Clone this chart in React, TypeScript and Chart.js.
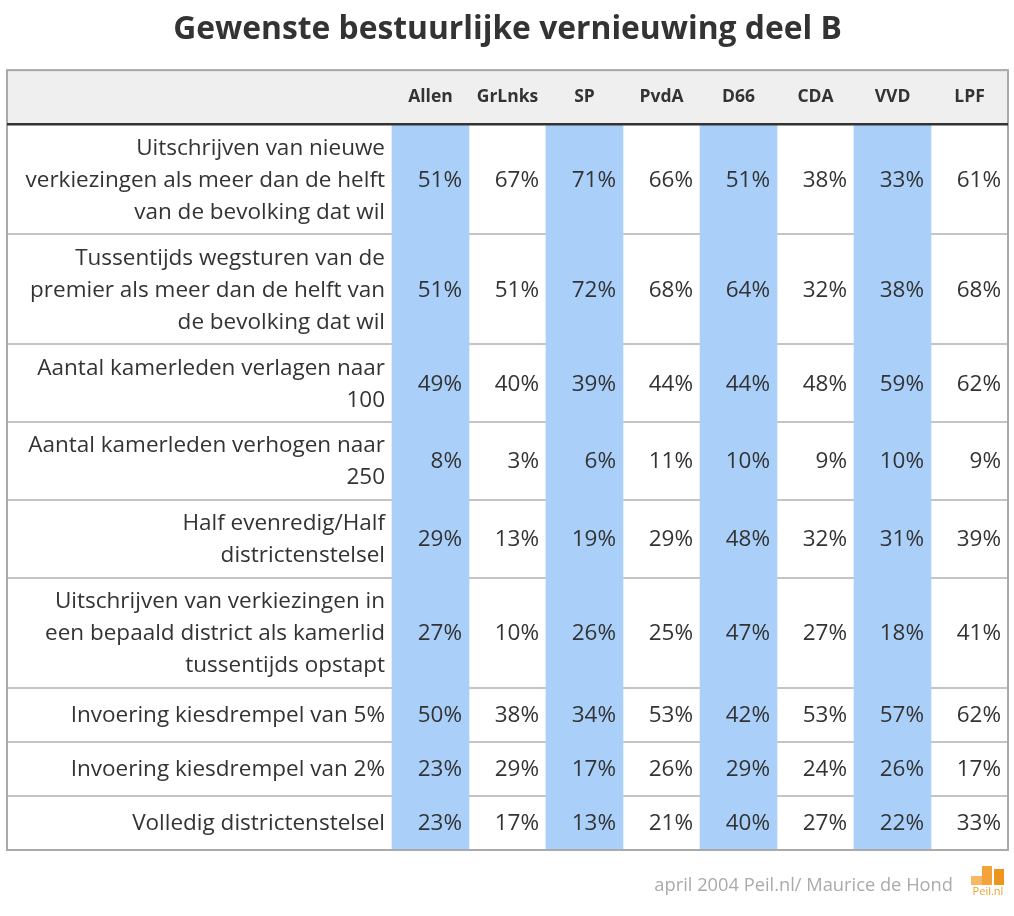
import React, { useEffect, useRef } from "react";
import { Chart, registerables } from "chart.js";

Chart.register(...registerables);

const title = "Gewenste bestuurlijke vernieuwing deel B";
const footer = "april 2004 Peil.nl/ Maurice de Hond";

const parties = ["Allen", "GrLnks", "SP", "PvdA", "D66", "CDA", "VVD", "LPF"];
const highlighted = ["Allen", "SP", "D66", "VVD"];

const rowLabels: string[][] = [
  ["Uitschrijven van nieuwe", "verkiezingen als meer dan de helft", "van de bevolking dat wil"],
  ["Tussentijds wegsturen van de", "premier als meer dan de helft van", "de bevolking dat wil"],
  ["Aantal kamerleden verlagen naar", "100"],
  ["Aantal kamerleden verhogen naar", "250"],
  ["Half evenredig/Half", "districtenstelsel"],
  ["Uitschrijven van verkiezingen in", "een bepaald district als kamerlid", "tussentijds opstapt"],
  ["Invoering kiesdrempel van 5%"],
  ["Invoering kiesdrempel van 2%"],
  ["Volledig districtenstelsel"],
];

const allen = [51, 51, 49, 8, 29, 27, 50, 23, 23];
const grlnks = [67, 51, 40, 3, 13, 10, 38, 29, 17];
const sp = [71, 72, 39, 6, 19, 26, 34, 17, 13];
const pvda = [66, 68, 44, 11, 29, 25, 53, 26, 21];
const d66 = [51, 64, 44, 10, 48, 47, 42, 29, 40];
const cda = [38, 32, 48, 9, 32, 27, 53, 24, 27];
const vvd = [33, 38, 59, 10, 31, 18, 57, 26, 22];
const lpf = [61, 68, 62, 9, 39, 41, 62, 17, 33];

const seriesByParty = [allen, grlnks, sp, pvda, d66, cda, vvd, lpf];

const FONT = "'Open Sans'";
const LABEL_SLOTS = 5;
const HEADER_H = 54;
const LINE_H = 32;

export default function App() {
  const ref = useRef<HTMLCanvasElement>(null);

  useEffect(() => {
    const canvas = ref.current;
    if (!canvas) return;

    const rowHeights = rowLabels.map((l) => Math.max(54, l.length * LINE_H + 14));
    const bounds: number[] = [0, HEADER_H];
    rowHeights.forEach((h) => bounds.push(bounds[bounds.length - 1] + h));
    const total = bounds[bounds.length - 1];

    const labels = [...Array(LABEL_SLOTS).fill(""), ...parties];
    const blueData = labels.map((l, i) =>
      i >= LABEL_SLOTS && highlighted.includes(l) ? [HEADER_H, total] : null
    );
    const headerData = labels.map(() => [0, HEADER_H]);

    const tablePlugin = {
      id: "tableText",
      afterDraw(chart: any) {
        const { ctx, chartArea } = chart;
        const x = chart.scales.x;
        const y = chart.scales.y;
        const slotW = (chartArea.right - chartArea.left) / labels.length;
        ctx.save();
        // outer border
        ctx.strokeStyle = "#aaaaaa";
        ctx.lineWidth = 2;
        ctx.strokeRect(chartArea.left, chartArea.top, chartArea.right - chartArea.left, chartArea.bottom - chartArea.top);
        // header line
        ctx.strokeStyle = "#333333";
        ctx.lineWidth = 2.5;
        const hy = y.getPixelForValue(HEADER_H);
        ctx.beginPath();
        ctx.moveTo(chartArea.left, hy);
        ctx.lineTo(chartArea.right, hy);
        ctx.stroke();

        ctx.fillStyle = "#333333";
        ctx.textBaseline = "middle";
        // headers
        ctx.font = `bold 17.5px ${FONT}`;
        ctx.textAlign = "center";
        parties.forEach((p, j) => {
          ctx.fillText(p, x.getPixelForValue(LABEL_SLOTS + j), y.getPixelForValue(HEADER_H / 2));
        });
        // rows
        ctx.font = `22.5px ${FONT}`;
        const labelRight = x.getPixelForValue(LABEL_SLOTS - 1) + slotW / 2 - 7;
        rowLabels.forEach((lines, r) => {
          const cy = y.getPixelForValue((bounds[r + 1] + bounds[r + 2]) / 2) + 1;
          ctx.textAlign = "right";
          lines.forEach((line, k) => {
            ctx.fillText(line, labelRight, cy + (k - (lines.length - 1) / 2) * LINE_H);
          });
          seriesByParty.forEach((vals, j) => {
            const right = x.getPixelForValue(LABEL_SLOTS + j) + slotW / 2 - 7;
            ctx.fillText(`${vals[r]}%`, right, cy);
          });
        });

        // footer
        ctx.font = `18.3px ${FONT}`;
        ctx.fillStyle = "#aaaaaa";
        ctx.textAlign = "right";
        ctx.fillText(footer, 953, 886);

        // logo
        ctx.fillStyle = "#f5b866";
        ctx.fillRect(971, 876, 11, 9);
        ctx.fillStyle = "#f2a43a";
        ctx.fillRect(982, 866, 10, 19);
        ctx.fillStyle = "#ee951f";
        ctx.fillRect(994, 869, 10, 16);
        ctx.font = `11px ${FONT}`;
        ctx.fillStyle = "#f0a030";
        ctx.textAlign = "center";
        ctx.fillText("Peil.nl", 988, 892);
        ctx.restore();
      },
    };

    const chart = new Chart(canvas, {
      type: "bar",
      data: {
        labels,
        datasets: [
          {
            label: "header",
            data: headerData as any,
            backgroundColor: "#efefef",
            borderWidth: 0,
            barPercentage: 1,
            categoryPercentage: 1,
            grouped: false,
          } as any,
          {
            label: "highlight",
            data: blueData as any,
            backgroundColor: "#aad0fa",
            borderWidth: 0,
            barPercentage: 1,
            categoryPercentage: 1,
            grouped: false,
          } as any,
        ],
      },
      options: {
        responsive: false,
        animation: false,
        devicePixelRatio: 1,
        layout: { padding: { left: 7, right: 6, top: 0, bottom: 66 } },
        plugins: {
          legend: { display: false },
          tooltip: { enabled: false },
          title: {
            display: true,
            text: title,
            color: "#333333",
            font: { family: FONT, size: 31.8, weight: "bold" },
            padding: { top: 11, bottom: 21 },
          },
        },
        scales: {
          x: { type: "category", display: false },
          y: {
            type: "linear",
            reverse: true,
            min: 0,
            max: total,
            display: true,
            z: 1,
            afterBuildTicks: (axis: any) => {
              axis.ticks = bounds.map((v) => ({ value: v }));
            },
            afterFit: (axis: any) => {
              axis.width = 0;
            },
            ticks: { display: false },
            border: { display: false },
            grid: {
              drawTicks: false,
              color: "#c4c4c4",
              lineWidth: 2,
            },
          },
        },
      } as any,
      plugins: [tablePlugin],
    });

    return () => chart.destroy();
  }, []);

  return (
    <div style={{ position: "absolute", left: 0, top: 0, width: 1014, height: 916, background: "#ffffff" }}>
      <canvas ref={ref} width={1014} height={916} />
    </div>
  );
}
